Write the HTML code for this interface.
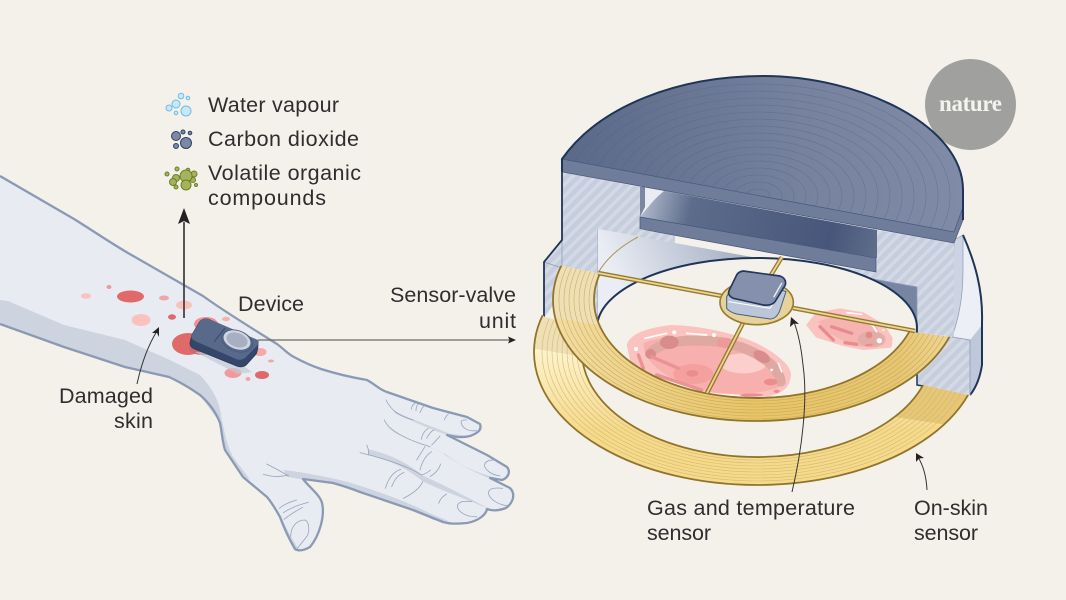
<!DOCTYPE html>
<html><head><meta charset="utf-8"><style>
html,body{margin:0;padding:0;background:#f4f1ea}
svg{display:block}
text{font-family:"Liberation Sans",sans-serif;font-size:21.500px;fill:#2e2e2e}
</style></head><body>
<svg xmlns="http://www.w3.org/2000/svg" width="1066" height="600" viewBox="0 0 1066 600">
<defs>
<pattern id="hatch" width="8" height="8" patternUnits="userSpaceOnUse" patternTransform="rotate(45)">
<rect width="8" height="8" fill="#c6cedd"/><rect width="3.500" height="8" fill="#d3d9e5"/></pattern>
<linearGradient id="capG" x1="0" y1="0" x2="1" y2="0"><stop offset="0" stop-color="#5a6988"/><stop offset=".6" stop-color="#76829e"/><stop offset="1" stop-color="#7f8ba7"/></linearGradient>
<linearGradient id="wallG" gradientUnits="userSpaceOnUse" x1="840" y1="235" x2="640" y2="330"><stop offset="0" stop-color="#7885a2"/><stop offset=".5" stop-color="#aeb7ca"/><stop offset="1" stop-color="#eaedf4"/></linearGradient>
<linearGradient id="slabG" gradientUnits="userSpaceOnUse" x1="645" y1="195" x2="876" y2="250"><stop offset="0" stop-color="#b0b9cc"/><stop offset=".2" stop-color="#5d6c8b"/><stop offset=".8" stop-color="#47567a"/><stop offset="1" stop-color="#5f6d8b"/></linearGradient>
<linearGradient id="r1G" x1="0" y1="0" x2="1" y2="0"><stop offset="0" stop-color="#f2dca2"/><stop offset=".5" stop-color="#e7c568"/><stop offset=".85" stop-color="#e6c672"/><stop offset="1" stop-color="#efd898"/></linearGradient>
<linearGradient id="r2G" gradientUnits="userSpaceOnUse" x1="0" y1="350" x2="0" y2="430"><stop offset="0" stop-color="#fdf3cd"/><stop offset="1" stop-color="#f5da8c"/></linearGradient>
<path id="r1" fill-rule="evenodd" d="M553,300 a203,121 0 1,0 406,0 a203,121 0 1,0 -406,0Z M594,300 a162,98 0 1,0 324,0 a162,98 0 1,0 -324,0Z"/>
<path id="r2" fill-rule="evenodd" d="M534,352 a223,133 0 1,0 446,0 a223,133 0 1,0 -446,0Z M582,352 a175,105 0 1,0 350,0 a175,105 0 1,0 -350,0Z"/>
<path id="cap" d="M562,159 C600,105 680,76 763,76 C860,76 963,125 963,190 V207 L954,232 Z"/>
<clipPath id="c1"><polygon points="563,266 530,260 530,450 1000,450 952,337 912,332 756,300 598,273"/></clipPath>
<clipPath id="c2"><polygon points="545,317 520,300 510,530 1010,530 1000,402 923,385 757,352 590,330"/></clipPath>
<clipPath id="a1"><path clip-rule="evenodd" d="M553,300 a203,121 0 1,0 406,0 a203,121 0 1,0 -406,0Z M594,300 a162,98 0 1,0 324,0 a162,98 0 1,0 -324,0Z"/></clipPath>
<clipPath id="a2"><path clip-rule="evenodd" d="M534,352 a223,133 0 1,0 446,0 a223,133 0 1,0 -446,0Z M582,352 a175,105 0 1,0 350,0 a175,105 0 1,0 -350,0Z"/></clipPath>
<clipPath id="c3"><use href="#cap"/></clipPath>
</defs>
<rect width="1066" height="600" fill="#f4f1ea"/>

<!-- hand -->
<path d="M0,176 L74,219 C95,232 115,246 135,257 L203,296 C225,312 255,330 277,344 C285,350 288,354 294,357 C305,363 312,366 321,369 C340,375 355,378 367,380 C376,385 380,390 387,392 L433,408 L467,417 L480,424 C482,430 478,433 470,436 C462,438 455,437 447,435 L487,455 L507,467 C511,472 508,478 502,480 L490,478 L510,488 C516,494 513,503 506,508 C498,511 492,511 487,509 C486,515 478,521 467,523 C455,524 450,524 443,522 L413,510 L360,492 C350,488 340,485 333,483 L303,479 C310,488 320,495 322,503 C325,515 320,535 310,547 C303,551 298,551 295,549 C288,537 284,528 280,517 C275,508 272,503 267,497 L243,477 L225,450 C222,440 222,432 220,423 C216,412 208,402 200,395 C190,388 180,382 169,377 L125,367 L64,347 L0,324 Z" fill="#e8ebf1"/>
<path d="M0,300 L8,301 L64,325 L125,340 L172,361 L200,375 C212,388 219,400 221,415 C224,430 226,442 232,455 C238,465 246,473 250,480 L243,477 L225,450 L220,423 L200,395 L169,377 L125,367 L64,347 L0,324Z" fill="#cdd3df"/>
<g transform="translate(200,340) scale(.33333)" fill="#cdd3df">
<path d="M580,210 C620,235 690,255 745,280 L800,288 L770,292 C730,285 640,245 585,220Z"/>
<path d="M558,258 C600,290 650,310 690,322 L740,345 C790,385 840,400 895,415 L860,412 C810,390 770,370 720,335 C660,310 590,290 558,258Z"/>
<path d="M505,328 C560,340 620,365 665,405 C720,430 800,470 865,505 L850,500 C780,470 720,450 670,425 C620,385 570,360 505,345Z"/>
<path d="M250,390 C300,395 380,410 440,425 C520,450 600,475 690,520 L750,545 L700,540 C620,500 530,470 470,452 C410,430 350,420 305,418 L260,410Z"/>
<path d="M240,520 C250,545 270,590 295,625 L280,625 C265,590 250,550 240,520Z"/>
</g>
<path d="M0,176 L74,219 C95,232 115,246 135,257 L203,296 C225,312 255,330 277,344 C285,350 288,354 294,357 C305,363 312,366 321,369 C340,375 355,378 367,380 C376,385 380,390 387,392 L433,408 L467,417 L480,424 C482,430 478,433 470,436 C462,438 455,437 447,435 L487,455 L507,467 C511,472 508,478 502,480 L490,478 L510,488 C516,494 513,503 506,508 C498,511 492,511 487,509 C486,515 478,521 467,523 C455,524 450,524 443,522 L413,510 L360,492 C350,488 340,485 333,483 L303,479 C310,488 320,495 322,503 C325,515 320,535 310,547 C303,551 298,551 295,549 C288,537 284,528 280,517 C275,508 272,503 267,497 L243,477 L225,450 C222,440 222,432 220,423 C216,412 208,402 200,395 C190,388 180,382 169,377 L125,367 L64,347 L0,324" fill="none" stroke="#8b9ab4" stroke-width="2.300" stroke-linejoin="round"/>
<g transform="translate(200,340) scale(.33333)" fill="none" stroke="#97a4bb" stroke-width="2.400" stroke-linecap="round">
<path d="M830,272 C800,275 785,262 783,245 Q788,238 800,240 M900,408 C875,405 855,390 853,375 Q858,358 888,360 M925,497 C900,496 868,480 865,458 Q868,440 908,445 M830,530 C800,532 772,515 772,497 Q778,480 815,485"/>
<path d="M558,180 C575,215 600,228 640,240 M553,240 C565,270 620,300 690,320 M500,315 C508,330 505,340 505,345 M480,338 C530,350 620,375 665,405 M634,208 Q635,195 645,190 M648,212 Q648,198 655,192 M660,218 Q665,205 672,198 M733,240 Q738,228 745,222"/>
<path d="M664,298 Q668,275 685,265 M680,295 Q690,275 702,270 M695,315 Q710,300 720,288 M650,360 Q665,335 675,320 M660,390 Q670,350 695,335 M665,405 Q680,400 692,390 M690,410 Q715,395 722,372"/>
<path d="M556,445 C565,415 580,395 602,388 M575,440 C585,415 595,405 612,397 M610,475 C640,460 660,445 668,425 M716,490 Q722,472 740,462"/>
<path d="M200,372 C225,385 245,395 265,408 M190,403 C215,410 240,412 265,405 M238,505 Q255,490 290,480 M250,518 Q280,498 325,487 M252,538 Q275,520 308,502 M272,590 C272,560 290,540 315,540 C328,545 330,575 320,590 L292,625"/>
</g>
<!-- skin spots -->
<ellipse cx="130.500" cy="296.500" rx="13.500" ry="6" fill="#e06a6a"/>
<ellipse cx="86" cy="296" rx="5" ry="2.700" fill="#fbc1bd"/>
<ellipse cx="109" cy="287" rx="2.500" ry="2" fill="#f09b9b"/>
<ellipse cx="164" cy="298" rx="5" ry="2.500" fill="#f3a4a4"/>
<ellipse cx="184" cy="305" rx="8" ry="4.500" fill="#fbc1bd"/>
<ellipse cx="141" cy="320" rx="9.500" ry="6" fill="#fbc1bd"/>
<ellipse cx="172" cy="317" rx="4" ry="2.700" fill="#e0676a"/>
<ellipse cx="226" cy="319" rx="4" ry="2.200" fill="#f6b0ae"/>
<ellipse cx="206" cy="324" rx="12" ry="7" fill="#f09193"/>
<ellipse cx="188" cy="344" rx="16" ry="11" fill="#e06a6a"/>
<ellipse cx="203" cy="348" rx="14" ry="7" fill="#c9696e"/>
<ellipse cx="260" cy="352" rx="6.500" ry="4" fill="#f6a7a6"/>
<ellipse cx="271" cy="361" rx="3" ry="1.500" fill="#f3a4a4"/>
<ellipse cx="233" cy="373" rx="8.500" ry="5" fill="#f29a9a"/>
<ellipse cx="262" cy="375" rx="7" ry="4" fill="#e0676a"/>
<ellipse cx="248" cy="379" rx="2.500" ry="2" fill="#f3a4a4"/>
<!-- device -->
<path d="M195,352 L238,374 L252,372 L225,352Z" fill="#c2c9d7" opacity=".7"/>
<path d="M192,335 L190,343 Q190,347 195,349 L237,366 Q242,368 246,365 L256,354 Q258,350 258,342 L208,319 Q202,318 199,323Z" fill="#34476b" stroke="#2c3d5e" stroke-width="1"/>
<path d="M192,335 L199,323 Q203,317 209,319 L258,340 Q260,343 256,347 L245,358 Q241,361 236,359 L195,341 Q190,338 192,335Z" fill="#59698a"/>
<path d="M214,342 L225,328" stroke="#33466a" stroke-width="1" fill="none"/>
<ellipse cx="237" cy="341" rx="16" ry="10.500" transform="rotate(20 237 341)" fill="#54648a" stroke="#47587a" stroke-width=".6"/>
<ellipse cx="237" cy="340" rx="14" ry="9" transform="rotate(20 237 340)" fill="#cfd4de"/>
<ellipse cx="237" cy="340" rx="11" ry="7" transform="rotate(20 237 340)" fill="#a7afc2"/>
<!-- arrows -->
<path d="M184,318 V222" stroke="#3d3a3a" stroke-width="1.700" fill="none"/>
<path d="M184,208 L190,224 L184,221 L178,224Z" fill="#222"/>
<path d="M258,340 H510" stroke="#6e6a63" stroke-width="1.300" fill="none"/>
<path d="M516,340 L508,336.500 L509.500,340 L508,343.500Z" fill="#222"/>
<path d="M137,384 Q144,352 157,331" stroke="#333" stroke-width="1" fill="none"/>
<path d="M159,327 L152,333 L157,333 L159,337Z" fill="#222"/>
<!-- bubbles -->
<g fill="#c6e8f8" stroke="#6fbce8" stroke-width="1"><circle cx="181" cy="96" r="2.800"/><circle cx="188" cy="98" r="1.800"/><circle cx="176" cy="104" r="4"/><circle cx="169" cy="108" r="3"/><circle cx="176" cy="113" r="1.800"/><circle cx="186" cy="111" r="5"/></g>
<g fill="#7b88a6" stroke="#2f4263" stroke-width="1"><circle cx="176" cy="136" r="4.500"/><circle cx="183" cy="132" r="2"/><circle cx="190" cy="133" r="1.800"/><circle cx="186" cy="143" r="5.500"/><circle cx="176" cy="146" r="2.500"/></g>
<g fill="#a4b45a" stroke="#6d8028" stroke-width="1"><circle cx="176" cy="178" r="3.500"/><circle cx="173" cy="182" r="3.500"/><circle cx="194" cy="174" r="3"/><circle cx="193" cy="180" r="2.500"/><circle cx="177" cy="169" r="2"/><circle cx="167" cy="174" r="2"/><circle cx="176" cy="187" r="2"/><circle cx="196" cy="185" r="1.500"/><circle cx="188" cy="170" r="1.800"/><circle cx="186" cy="176" r="6"/><circle cx="186" cy="185" r="5"/></g>
<!-- labels -->
<text x="208" y="112" textLength="131">Water vapour</text>
<text x="208" y="146" textLength="151">Carbon dioxide</text>
<text x="208" y="180" textLength="153">Volatile organic</text>
<text x="208" y="205" textLength="118">compounds</text>
<text x="238" y="311" textLength="66">Device</text>
<text x="390" y="302" textLength="126">Sensor-valve</text>
<text x="479" y="328" textLength="37">unit</text>
<text x="59" y="403" textLength="94">Damaged</text>
<text x="114" y="428" textLength="39">skin</text>
<text x="647" y="515" textLength="208">Gas and temperature</text>
<text x="647" y="540" textLength="64">sensor</text>
<text x="914" y="515" textLength="74">On-skin</text>
<text x="914" y="540" textLength="64">sensor</text>

<!-- nature logo -->
<circle cx="970.500" cy="104.500" r="45.500" fill="#a0a19f"/>
<text x="939" y="111" textLength="63" style="font-family:'Liberation Serif',serif;font-size:23px;font-weight:bold;fill:#f4f3ef">nature</text>

<!-- housing: outer right -->
<path d="M963,235 C975,262 983,290 982,322 V365 Q979,384 970,395 L970,340 L952,337 L954,240Z" fill="#eceff5"/>
<path d="M970,340 L982,325 V365 Q979,384 970,395Z" fill="#bfc8da"/>
<path d="M954,240 L963,235 V270 C963,300 958,320 952,337Z" fill="#ccd4e3" stroke="#8f9bb5" stroke-width=".7"/>
<path d="M963,235 C975,262 983,290 982,322 V365 Q979,384 970,395" fill="none" stroke="#1f3558" stroke-width="2"/>
<!-- left hatch -->
<path d="M562,172 L640,187 V229 L675,236 V243 L598,229 V332 L553,305 L545,317 L544,262 L562,240Z" fill="url(#hatch)"/>
<path d="M544,262 L562,268 V240" fill="none" stroke="#8f9bb5" stroke-width=".8"/>
<path d="M562,172 V240 L544,262 V317" fill="none" stroke="#1f3558" stroke-width="1.800"/>
<path d="M598,229 V330" stroke="#8f9bb5" stroke-width=".8" fill="none"/>
<!-- inner wall -->
<path d="M598,229 L675,243 L840,273 L917,287 V332 L598,332Z" fill="url(#wallG)"/>
<!-- right hatch -->
<path d="M877,230 L954,243 V337 L917,332 V287 L840,273 V267 L876,272Z" fill="url(#hatch)"/>
<path d="M917,332 L952,337 L970,340 V395 L917,385Z" fill="url(#hatch)"/>
<path d="M917,330 V385 L923,386" fill="none" stroke="#1f3558" stroke-width="1.500"/>
<path d="M952,337 L970,340 V395" fill="none" stroke="#8f9bb5" stroke-width=".8"/>
<path d="M840,273 L917,287 V332" fill="none" stroke="#8f9bb5" stroke-width=".8"/>
<!-- cavity -->
<path d="M640,187 H645 V207 L640,217Z" fill="#7c88a3"/>
<path d="M645,187 L664,191 L645,208Z" fill="#e9ecf3"/>
<path d="M640,217 C648,207 655,198 664,191 L877,230 V258Z" fill="url(#slabG)"/>
<path d="M640,217 L876,258 V272 L640,229Z" fill="#707d9a" stroke="#44557a" stroke-width=".7"/>
<path d="M640,229 L675,236 V243 L640,237Z" fill="url(#hatch)"/>
<!-- opening -->
<ellipse cx="757" cy="328" rx="160" ry="70" fill="#f4f1ea" stroke="#1f3558" stroke-width="2"/>
<!-- wounds -->
<g transform="translate(530,250) scale(.33333)">
<path d="M290,285 C300,250 350,235 420,225 C500,225 620,250 680,280 C740,310 790,350 782,380 C780,420 740,440 690,440 L520,425 C440,400 330,370 300,330Z" fill="#fbc3c0"/>
<path d="M340,280 C400,250 520,260 620,280 C700,300 770,360 760,400 C740,430 600,440 530,425 C440,400 340,350 340,280Z" fill="#f8b0ae"/>
<ellipse cx="640" cy="340" rx="70" ry="30" fill="#fbcfcb"/>
<ellipse cx="490" cy="372" rx="60" ry="30" fill="#f4a09e"/>
<path d="M360,310 C385,280 450,270 500,272 C540,272 580,275 610,285 C650,295 690,315 720,340 C740,360 750,380 752,395" fill="none" stroke="#dfa9a1" stroke-width="30" stroke-linecap="round"/>
<g fill="#d98c8c"><ellipse cx="418" cy="277" rx="28" ry="20"/><ellipse cx="362" cy="312" rx="16" ry="15"/><ellipse cx="695" cy="320" rx="27" ry="16" transform="rotate(30 695 320)"/></g>
<ellipse cx="585" cy="278" rx="25" ry="15" fill="#ec9a9a"/>
<g fill="#ea8d8f"><ellipse cx="487" cy="370" rx="18" ry="10"/><ellipse cx="722" cy="396" rx="20" ry="10"/><ellipse cx="665" cy="435" rx="35" ry="5"/><ellipse cx="740" cy="424" rx="9" ry="5"/></g>
<path d="M325,315 L340,355 M365,320 L445,355 M380,375 L515,420" stroke="#eb9295" stroke-width="10" stroke-linecap="round" fill="none"/>
<path d="M345,265 L410,250 M470,250 L530,255 M745,340 L755,365" stroke="#fff" stroke-width="5" stroke-linecap="round" fill="none" opacity=".95"/>
<circle cx="433" cy="247" r="6" fill="#fff"/><circle cx="552" cy="255" r="6" fill="#fff"/><circle cx="318" cy="297" r="6" fill="#fff"/><circle cx="725" cy="360" r="4" fill="#fff"/>
<path d="M832,225 L860,190 L930,178 L1000,190 L1060,225 L1085,265 L1082,290 L1000,297 L940,285 L860,260Z" fill="#fbc3c0" stroke="#fbc3c0" stroke-width="6" stroke-linejoin="round"/>
<path d="M865,215 Q930,185 1010,220 Q1075,255 1060,285 L990,290 Q890,260 865,215Z" fill="#f6b4b1"/>
<ellipse cx="1025" cy="268" rx="42" ry="24" fill="#dfa9a3" opacity=".75"/>
<path d="M870,230 L910,270 M905,230 L965,250 M945,278 L980,283" stroke="#e98b8e" stroke-width="10" stroke-linecap="round" fill="none"/>
<path d="M1008,286 L1025,284" stroke="#e98b8e" stroke-width="6" stroke-linecap="round" fill="none"/>
<circle cx="1017" cy="255" r="10" fill="#e08a8c"/>
<path d="M950,188 L995,193 M1020,215 L1040,245" stroke="#fff" stroke-width="5" stroke-linecap="round" fill="none"/>
<circle cx="1048" cy="272" r="8" fill="#fff"/><circle cx="1060" cy="240" r="3" fill="#fff"/>
</g>
<!-- ring 2 -->
<g clip-path="url(#c2)">
<g clip-path="url(#a2)">
<rect x="500" y="290" width="520" height="240" fill="url(#r2G)"/>
<path d="M500,290 H590 V358 L530,348Z" fill="#efdfb5"/>
<path d="M923,385 L975,395 L948,425 L895,417Z" fill="#e6c778"/>
<g fill="none" stroke="#d0b36a" stroke-width=".6" opacity=".85">
<ellipse cx="757" cy="352" rx="180" ry="108"/><ellipse cx="757" cy="352" rx="185" ry="111"/><ellipse cx="757" cy="352" rx="190" ry="114"/><ellipse cx="757" cy="352" rx="195" ry="117"/><ellipse cx="757" cy="352" rx="200" ry="120"/><ellipse cx="757" cy="352" rx="205" ry="123"/><ellipse cx="757" cy="352" rx="210" ry="126"/><ellipse cx="757" cy="352" rx="215" ry="129"/></g>
</g>
<use href="#r2" fill="none" stroke="#91742c" stroke-width="1.800"/>
</g>
<!-- ring 1 -->
<g clip-path="url(#c1)">
<g clip-path="url(#a1)">
<rect x="553" y="179" width="406" height="242" fill="url(#r1G)"/>
<path d="M530,250 H605 V326 L550,317Z" fill="#efdfb5"/>
<g fill="none" stroke="#c6a453" stroke-width=".6" opacity=".85">
<ellipse cx="756" cy="300" rx="167" ry="101"/><ellipse cx="756" cy="300" rx="172" ry="104"/><ellipse cx="756" cy="300" rx="177" ry="107"/><ellipse cx="756" cy="300" rx="182" ry="110"/><ellipse cx="756" cy="300" rx="187" ry="113"/><ellipse cx="756" cy="300" rx="192" ry="116"/><ellipse cx="756" cy="300" rx="197" ry="119"/></g>
</g>
<use href="#r1" fill="none" stroke="#91742c" stroke-width="1.800"/>
</g>
<path d="M598,273 Q610,252 638,237" fill="none" stroke="#ab9354" stroke-width="1"/>
<!-- arms -->
<g fill="none" stroke-linecap="butt">
<path d="M598,273 L722,296 M793,308 L915,331 M743,323 L707,393 M782,257 L771,275" stroke="#967a30" stroke-width="4.500"/>
<path d="M598,273 L722,296 M793,308 L915,331 M743,323 L707,393 M782,257 L771,275" stroke="#ecd692" stroke-width="1.800"/>
</g>
<g transform="translate(530,250) scale(.33333)">
<ellipse cx="680" cy="157" rx="110" ry="67" fill="#e6d39b" stroke="#9a7d2f" stroke-width="5"/>
<path d="M590,140 L590,175 Q600,187 620,192 L720,207 Q740,207 750,180 L768,125 L630,70Z" fill="#bcc6d9" stroke="#4a5c7e" stroke-width="3"/>
<path d="M595,155 L720,175 L762,110" fill="none" stroke="#fff" stroke-width="3"/>
<path d="M640,63 L750,78 Q770,85 766,105 L735,155 Q725,168 700,165 L610,145 Q590,135 598,120 L620,75 Q625,65 640,63Z" fill="#8591ac" stroke="#24385c" stroke-width="5"/>
<path d="M755,100 L732,140" stroke="#f2f4f8" stroke-width="4" stroke-linecap="round" fill="none"/>
</g>
<!-- cap -->
<use href="#cap" fill="url(#capG)"/>
<g clip-path="url(#c3)" fill="none" stroke="#525f7d" stroke-width=".6" opacity=".45">
<ellipse cx="758" cy="196" rx="12" ry="7"/><ellipse cx="758" cy="196" rx="24" ry="14"/><ellipse cx="758" cy="196" rx="36" ry="21"/><ellipse cx="758" cy="196" rx="48" ry="28"/><ellipse cx="758" cy="196" rx="60" ry="35"/><ellipse cx="758" cy="196" rx="72" ry="42"/><ellipse cx="758" cy="196" rx="84" ry="49"/><ellipse cx="758" cy="196" rx="96" ry="56"/><ellipse cx="758" cy="196" rx="108" ry="63"/><ellipse cx="758" cy="196" rx="120" ry="70"/><ellipse cx="758" cy="196" rx="132" ry="77"/><ellipse cx="758" cy="196" rx="144" ry="84"/><ellipse cx="758" cy="196" rx="156" ry="91"/><ellipse cx="758" cy="196" rx="168" ry="98"/><ellipse cx="758" cy="196" rx="180" ry="105"/><ellipse cx="758" cy="196" rx="192" ry="112"/></g>
<path d="M562,159 L954,232 L963,207 V220 L954,243 L562,172Z" fill="#6f7c9a" stroke="#47587a" stroke-width=".7"/>
<path d="M562,172 V159 C600,105 680,76 763,76 C860,76 963,125 963,190 V220" fill="none" stroke="#1f3558" stroke-width="2"/>
<!-- foreground arrows -->
<path d="M792,492 C802,450 808,400 803,365 C801,345 797,330 794,322" fill="none" stroke="#333" stroke-width="1"/>
<path d="M791,317 L790,327 L794,323.500 L799,324Z" fill="#222"/>
<path d="M927,490 Q926,470 918,457" fill="none" stroke="#333" stroke-width="1"/>
<path d="M916,453 L916,462 L919,458.500 L924,458Z" fill="#222"/>
</svg>
</body></html>
